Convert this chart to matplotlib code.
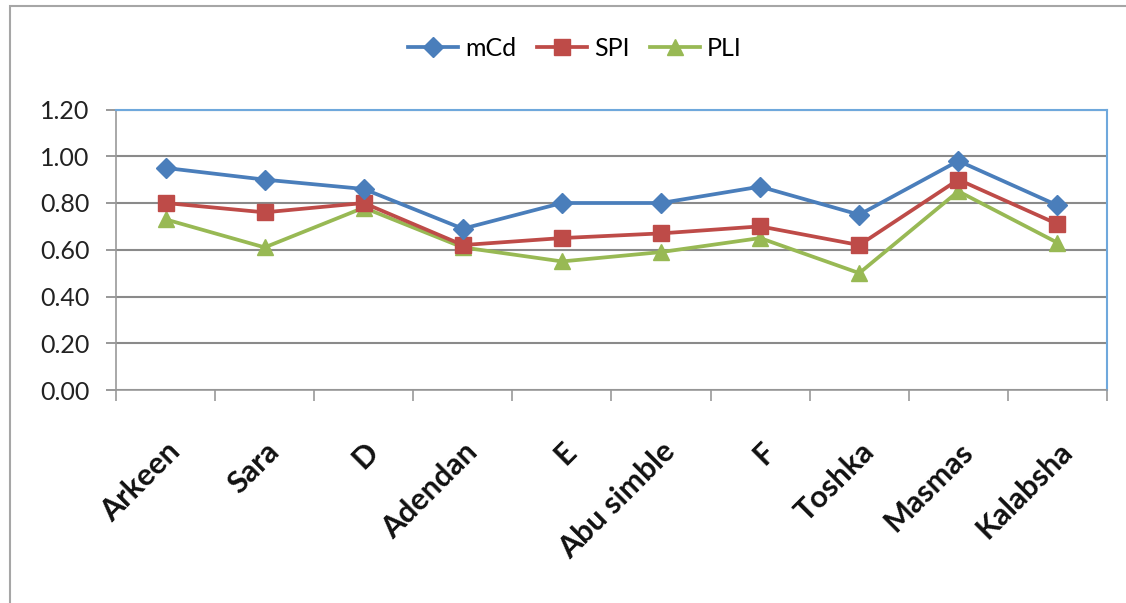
import matplotlib.pyplot as plt
import matplotlib.patches as patches
import numpy as np

sites = ['Arkeen', 'Sara', 'D', 'Adendan', 'E', 'Abu simble', 'F', 'Toshka', 'Masmas', 'Kalabsha']
mcd = [0.95, 0.90, 0.86, 0.69, 0.80, 0.80, 0.87, 0.75, 0.98, 0.79]
spi = [0.80, 0.76, 0.80, 0.62, 0.65, 0.67, 0.70, 0.62, 0.90, 0.71]
pli = [0.73, 0.61, 0.78, 0.61, 0.55, 0.59, 0.65, 0.50, 0.85, 0.63]
yticks = [0.0, 0.2, 0.4, 0.6, 0.8, 1.0, 1.2]

plt.rcParams['font.family'] = ['Lato', 'DejaVu Sans']

fig = plt.figure(figsize=(11.26, 6.03), dpi=100)
W, H = 1126, 603

# outer chart frame
fig.patches.append(patches.Rectangle((10 / W, -0.1), 1.2, 1 - 6 / H + 0.1,
                                     transform=fig.transFigure, fill=False,
                                     edgecolor='#a6a6a6', linewidth=1.5))

ax = fig.add_axes([116 / W, 1 - 390 / H, (1107 - 116) / W, (390 - 109.5) / H])
x = np.arange(len(sites))

ax.plot(x, mcd, color='#4a7ebb', lw=2.7, marker='D', ms=10, label='mCd', zorder=5)
ax.plot(x, spi, color='#be4b48', lw=2.7, marker='s', ms=11, label='SPI', zorder=4)
ax.plot(x, pli, color='#98b954', lw=2.7, marker='^', ms=11, label='PLI', zorder=3)

ax.set_xlim(-0.5, len(sites) - 0.5)
ax.set_ylim(0, 1.2)
ax.set_yticks(yticks)
ax.set_yticklabels([f'{v:.2f}' for v in yticks], fontsize=18, color='#222222')
ax.tick_params(axis='y', length=7, color='#888888', width=1.2, pad=12)
ax.yaxis.grid(True, color='#8a8a8a', linewidth=1.5)
ax.set_axisbelow(True)

ax.set_xticks(x)
ax.set_xticklabels(sites, rotation=45, ha='right', rotation_mode='anchor',
                   fontsize=22, fontweight='bold', color='#111111')
ax.tick_params(axis='x', length=0, pad=34)
ax.set_xticks(np.arange(-0.5, len(sites)), minor=True)
ax.tick_params(axis='x', which='minor', length=8, color='#999999', width=1.2)

for side in ('left', 'bottom'):
    ax.spines[side].set_color('#999999')
    ax.spines[side].set_linewidth(1.2)
for side in ('top', 'right'):
    ax.spines[side].set_color('#6fa8dc')
    ax.spines[side].set_linewidth(1.5)

fig.legend(loc='center', bbox_to_anchor=(575 / W, 1 - 48 / H), ncol=3,
           frameon=False, fontsize=18, handlelength=2.0, columnspacing=0.8,
           handletextpad=0.3)

fig.savefig('out.png', dpi=100)
